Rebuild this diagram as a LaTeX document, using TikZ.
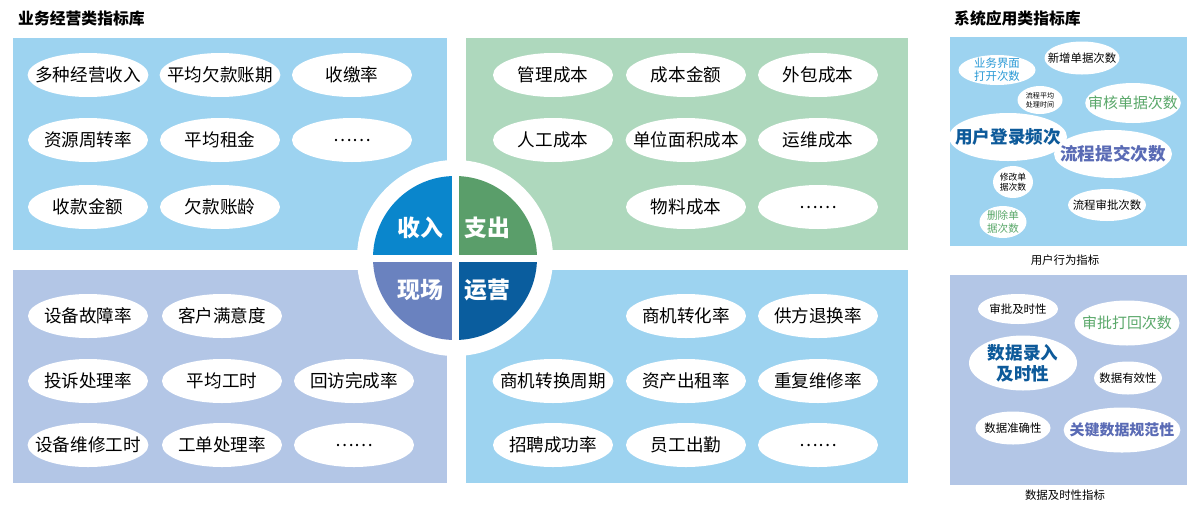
\documentclass[tikz,border=0pt]{standalone}
\usepackage{fontspec}
\setmainfont{Noto Sans CJK SC}
\usetikzlibrary{shapes.geometric,calc}
\definecolor{skyblue}{HTML}{9DD3F0}
\definecolor{mintgreen}{HTML}{AED8BD}
\definecolor{lavblue}{HTML}{B3C6E6}
\definecolor{incomeblue}{HTML}{0A86CC}
\definecolor{costgreen}{HTML}{5A9E6A}
\definecolor{sitepurple}{HTML}{6A82BF}
\definecolor{opsblue}{HTML}{0A5D9E}
\definecolor{txtblue}{HTML}{2A9AD6}
\definecolor{txtgreen}{HTML}{5AA86A}
\definecolor{txtdark}{HTML}{0D5A9A}
\definecolor{txtviolet}{HTML}{5A6BB5}
\tikzset{
  metric/.style={ellipse, fill=white, inner xsep=-0.2cm, inner ysep=0pt, minimum width=2.4cm, minimum height=0.88cm, font=\fontsize{10}{12}\selectfont},
  bubble/.style={ellipse, fill=white, inner xsep=-0.22cm, inner ysep=-1pt, align=center, font=\fontsize{5.5}{6.5}\selectfont},
  quadlabel/.style={text=white, font=\fontsize{13}{15}\selectfont\bfseries},
  heading/.style={anchor=west, font=\fontsize{9}{11}\selectfont\bfseries},
  caption/.style={font=\fontsize{6.5}{8}\selectfont}
}
\begin{document}
\begin{tikzpicture}[x=0.02cm, y=-0.02cm]
  \useasboundingbox (0,0) rectangle (1200,508);
  % panels
  \fill[skyblue] (13,38) rectangle (447,250);
  \fill[mintgreen] (466,38) rectangle (908,250);
  \fill[lavblue] (13,270) rectangle (447,483);
  \fill[skyblue] (466,270) rectangle (908,483);
  \fill[skyblue] (950,37) rectangle (1187,246);
  \fill[lavblue] (950,275) rectangle (1187,485);
  \node[heading] (t1) at (12,18) {业务经营类指标库};
  \node[heading] (t2) at (948,18) {系统应用类指标库};
  % income
  \node[metric] (i1) at (88,75) {多种经营收入};
  \node[metric] (i2) at (220,75) {平均欠款账期};
  \node[metric] (i3) at (352,75) {收缴率};
  \node[metric] (i4) at (88,140) {资源周转率};
  \node[metric] (i5) at (220,140) {平均租金};
  \node[metric] (i6) at (352,140) {……};
  \node[metric] (i7) at (88,207) {收款金额};
  \node[metric] (i8) at (220,207) {欠款账龄};
  % cost
  \node[metric] (c1) at (553,75) {管理成本};
  \node[metric] (c2) at (686,75) {成本金额};
  \node[metric] (c3) at (818,75) {外包成本};
  \node[metric] (c4) at (553,140) {人工成本};
  \node[metric] (c5) at (686,140) {单位面积成本};
  \node[metric] (c6) at (818,140) {运维成本};
  \node[metric] (c7) at (686,207) {物料成本};
  \node[metric] (c8) at (818,207) {……};
  % site
  \node[metric] (s1) at (88,316) {设备故障率};
  \node[metric] (s2) at (222,316) {客户满意度};
  \node[metric] (s3) at (88,381) {投诉处理率};
  \node[metric] (s4) at (222,381) {平均工时};
  \node[metric] (s5) at (354,381) {回访完成率};
  \node[metric] (s6) at (88,445) {设备维修工时};
  \node[metric] (s7) at (222,445) {工单处理率};
  \node[metric] (s8) at (354,445) {……};
  % operations
  \node[metric] (o1) at (686,316) {商机转化率};
  \node[metric] (o2) at (818,316) {供方退换率};
  \node[metric] (o3) at (553,381) {商机转换周期};
  \node[metric] (o4) at (686,381) {资产出租率};
  \node[metric] (o5) at (818,381) {重复维修率};
  \node[metric] (o6) at (553,445) {招聘成功率};
  \node[metric] (o7) at (686,445) {员工出勤};
  \node[metric] (o8) at (818,445) {……};
  % centre wheel
  \coordinate (hub) at (455,258);
  \fill[white] (hub) circle (98);
  \begin{scope}
    \clip (hub) circle (82);
    \fill[incomeblue] (hub) rectangle ++(-90,-90);
    \fill[costgreen] (hub) rectangle ++(90,-90);
    \fill[sitepurple] (hub) rectangle ++(-90,90);
    \fill[opsblue] (hub) rectangle ++(90,90);
  \end{scope}
  \draw[white, line width=7*0.02cm] ($(hub)+(-85,0)$) -- ($(hub)+(85,0)$);
  \draw[white, line width=7*0.02cm] ($(hub)+(0,-85)$) -- ($(hub)+(0,85)$);
  \node[quadlabel] (q1) at (420,228) {收入};
  \node[quadlabel] (q2) at (487,228) {支出};
  \node[quadlabel] (q3) at (420,290) {现场};
  \node[quadlabel] (q4) at (487,290) {运营};
  % user behaviour
  \node[bubble, minimum width=77*0.02cm, minimum height=30*0.02cm, text=txtblue, font=\fontsize{6.5}{7.5}\selectfont] (u1) at (997,70) {业务界面\\打开次数};
  \node[bubble, minimum width=75*0.02cm, minimum height=33*0.02cm, font=\fontsize{6.5}{7.5}\selectfont] (u2) at (1082,58) {新增单据次数};
  \node[bubble, minimum width=45*0.02cm, minimum height=28*0.02cm, font=\fontsize{4}{5}\selectfont] (u3) at (1040,100) {流程平均\\处理时间};
  \node[bubble, minimum width=93*0.02cm, minimum height=40*0.02cm, text=txtgreen, font=\fontsize{8.5}{10}\selectfont] (u4) at (1133,103) {审核单据次数};
  \node[bubble, minimum width=105*0.02cm, minimum height=48*0.02cm, text=txtdark, font=\fontsize{10}{12}\selectfont\bfseries] (u5) at (1008,137) {用户登录频次};
  \node[bubble, minimum width=108*0.02cm, minimum height=48*0.02cm, text=txtviolet, font=\fontsize{10}{12}\selectfont\bfseries] (u6) at (1113,154) {流程提交次数};
  \node[bubble, minimum width=40*0.02cm, minimum height=32*0.02cm, font=\fontsize{5}{6}\selectfont] (u7) at (1013,182) {修改单\\据次数};
  \node[bubble, minimum width=78*0.02cm, minimum height=32*0.02cm, font=\fontsize{6.5}{7.5}\selectfont] (u8) at (1107,205) {流程审批次数};
  \node[bubble, minimum width=47*0.02cm, minimum height=32*0.02cm, text=txtgreen, font=\fontsize{6}{7}\selectfont] (u9) at (1003,222) {删除单\\据次数};
  \node[caption] (cap1) at (1065,260) {用户行为指标};
  % data timeliness
  \node[bubble, minimum width=80*0.02cm, minimum height=30*0.02cm, font=\fontsize{6.5}{7.5}\selectfont] (d1) at (1018,309) {审批及时性};
  \node[bubble, minimum width=105*0.02cm, minimum height=45*0.02cm, text=txtgreen, font=\fontsize{8.5}{10}\selectfont] (d2) at (1127,323) {审批打回次数};
  \node[bubble, minimum width=108*0.02cm, minimum height=55*0.02cm, text=txtdark, font=\fontsize{10}{12}\selectfont\bfseries] (d3) at (1023,363) {数据录入\\及时性};
  \node[bubble, minimum width=68*0.02cm, minimum height=33*0.02cm, font=\fontsize{6.5}{7.5}\selectfont] (d4) at (1128,378) {数据有效性};
  \node[bubble, minimum width=75*0.02cm, minimum height=33*0.02cm, font=\fontsize{6.5}{7.5}\selectfont] (d5) at (1013,428) {数据准确性};
  \node[bubble, minimum width=105*0.02cm, minimum height=45*0.02cm, text=txtviolet, font=\fontsize{8.5}{10}\selectfont\bfseries] (d6) at (1122,430) {关键数据规范性};
  \node[caption] (cap2) at (1065,495) {数据及时性指标};
\end{tikzpicture}
\end{document}
